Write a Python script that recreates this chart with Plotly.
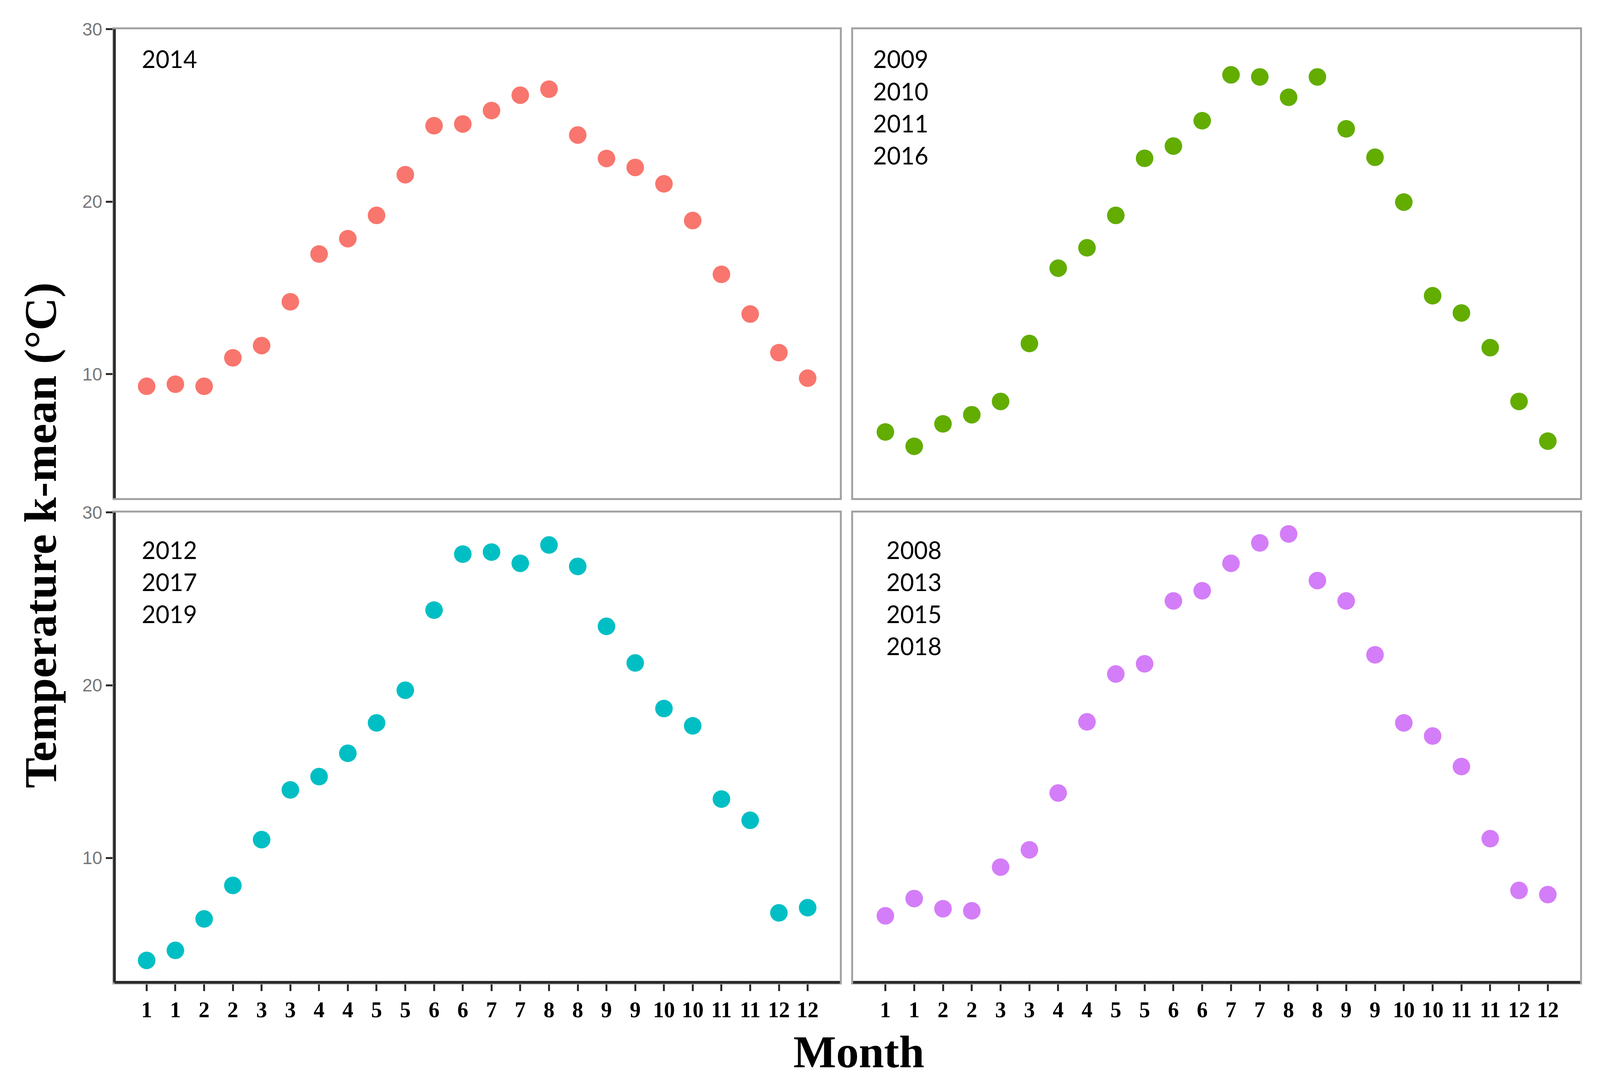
import plotly.graph_objects as go

# ---------------- data ----------------
tick_labels = ["1", "1", "2", "2", "3", "3", "4", "4", "5", "5", "6", "6",
               "7", "7", "8", "8", "9", "9", "10", "10", "11", "11", "12", "12"]
positions = list(range(24))

temp_2014 = [9.29, 9.41, 9.29, 10.94, 11.65, 14.19, 16.96, 17.85, 19.2, 21.56, 24.4, 24.5,
             25.28, 26.17, 26.52, 23.86, 22.5, 21.98, 21.03, 18.9, 15.78, 13.48, 11.24, 9.76]
temp_green = [6.64, 5.81, 7.11, 7.64, 8.41, 11.77, 16.14, 17.32, 19.2, 22.51, 23.22, 24.69,
              27.35, 27.23, 26.05, 27.23, 24.22, 22.57, 19.97, 14.54, 13.54, 11.53, 8.41, 6.11]
temp_cyan = [4.07, 4.65, 6.47, 8.41, 11.06, 13.94, 14.71, 16.06, 17.82, 19.71, 24.35, 27.59,
             27.71, 27.06, 28.12, 26.88, 23.41, 21.29, 18.65, 17.65, 13.41, 12.18, 6.82, 7.12]
temp_pink = [6.65, 7.65, 7.06, 6.94, 9.47, 10.47, 13.76, 17.88, 20.65, 21.24, 24.88, 25.47,
             27.06, 28.24, 28.76, 26.06, 24.88, 21.76, 17.82, 17.06, 15.29, 11.12, 8.12, 7.88]

years_tl = ["2014"]
years_tr = ["2009", "2010", "2011", "2016"]
years_bl = ["2012", "2017", "2019"]
years_br = ["2008", "2013", "2015", "2018"]

y_ticks = [10, 20, 30]

# ---------------- layout geometry (pixels) ----------------
W, H = 4100, 2780
def px_x(p): return p / W
def px_y(p): return 1 - p / H

xdom_left = [px_x(285), px_x(2142)]
xdom_right = [px_x(2176), px_x(4037)]
ydom_top = [px_y(1253), px_y(41)]
ydom_bot = [px_y(2504), px_y(1290)]

XR = [-1.12, 24.12]
YR = [2.8, 30]

GRAY = "#a3a3a3"
DARK = "#2b2b2b"

panels = [
    # (values, color, xaxis id, yaxis id, xdom, ydom, years, text x px, first line y px)
    (temp_2014, "#F8766D", "x", "y", xdom_left, ydom_top, years_tl, 353, 118),
    (temp_green, "#62AD00", "x2", "y2", xdom_right, ydom_top, years_tr, 2225, 118),
    (temp_cyan, "#00BFC4", "x3", "y3", xdom_left, ydom_bot, years_bl, 353, 1386),
    (temp_pink, "#D47DF8", "x4", "y4", xdom_right, ydom_bot, years_br, 2259, 1386),
]

fig = go.Figure()
annotations = []
shapes = []
LINE_GAP = 83

for i, (vals, col, xa, ya, xd, yd, years, tx, ty) in enumerate(panels):
    fig.add_trace(go.Scatter(
        x=positions, y=vals, mode="markers", xaxis=xa, yaxis=ya,
        marker=dict(color=col, size=45, line=dict(width=0)),
        showlegend=False, hoverinfo="skip"))
    n = "" if i == 0 else str(i + 1)
    is_left = i in (0, 2)
    is_bottom = i in (2, 3)
    fig.layout["xaxis" + n] = dict(
        domain=xd, range=XR, anchor="y" + n,
        tickmode="array", tickvals=positions, ticktext=tick_labels,
        showticklabels=is_bottom, ticks="outside" if is_bottom else "",
        ticklen=17, tickwidth=5, tickcolor=DARK,
        tickfont=dict(family="Liberation Serif", size=56, color="#000000", weight="bold"),
        showline=True, mirror=True, linecolor=GRAY, linewidth=5,
        showgrid=False, zeroline=False, fixedrange=True)
    fig.layout["yaxis" + n] = dict(
        domain=yd, range=YR, anchor="x" + n,
        tickmode="array", tickvals=y_ticks,
        showticklabels=is_left, ticks="outside" if is_left else "",
        ticklen=17, tickwidth=5, tickcolor=DARK,
        tickfont=dict(family="Liberation Sans", size=46, color="#777777"),
        showline=True, mirror=True, linecolor=GRAY, linewidth=5,
        showgrid=False, zeroline=False, fixedrange=True)
    if is_left:
        shapes.append(dict(type="line", xref="paper", yref="paper",
                           x0=xd[0], x1=xd[0], y0=yd[0], y1=yd[1],
                           line=dict(color=DARK, width=7), layer="above"))
    if is_bottom:
        shapes.append(dict(type="line", xref="paper", yref="paper",
                           x0=xd[0], x1=xd[1], y0=yd[0], y1=yd[0],
                           line=dict(color=DARK, width=7), layer="above"))
    for k, yr in enumerate(years):
        annotations.append(dict(
            text=yr, xref="paper", yref="paper",
            x=px_x(tx), y=px_y(ty + k * LINE_GAP),
            xanchor="left", yanchor="middle", showarrow=False,
            font=dict(family="Lato", size=61, color="#000000")))

annotations.append(dict(
    text="<b>Month</b>", xref="paper", yref="paper",
    x=px_x(2190), y=px_y(2684), xanchor="center", yanchor="middle",
    showarrow=False, font=dict(family="Liberation Serif", size=116, color="#000000")))
annotations.append(dict(
    text="<b>Temperature k-mean (°C)</b>", xref="paper", yref="paper",
    x=px_x(95), y=px_y(1349), xanchor="center", yanchor="middle", textangle=-90,
    showarrow=False, font=dict(family="Liberation Serif", size=117, color="#000000")))

fig.update_layout(
    width=W, height=H,
    margin=dict(l=0, r=0, t=0, b=0),
    paper_bgcolor="white", plot_bgcolor="white",
    annotations=annotations, shapes=shapes,
)

fig.write_html("out.html")
